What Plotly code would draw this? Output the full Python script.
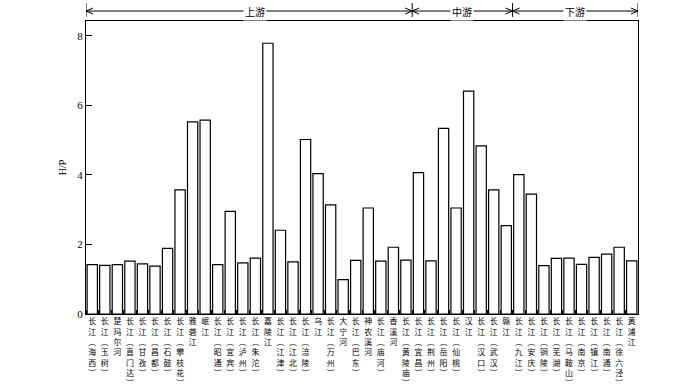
import plotly.graph_objects as go

stations = ["长江(海西)", "长江(玉树)", "楚玛尔河", "长江(直门达)", "长江(甘孜)", "长江(昌都)",
            "长江(石鼓)", "长江(攀枝花)", "雅砻江", "岷江", "长江(昭通)", "长江(宜宾)",
            "长江(泸州)", "长江(朱沱)", "嘉陵江", "长江(江津)", "长江(江北)", "长江(涪陵)",
            "乌江", "长江(万州)", "大宁河", "长江(巴东)", "神农溪河", "长江(庙河)",
            "香溪河", "长江(黄陵庙)", "长江(宜昌)", "长江(荆州)", "长江(岳阳)", "长江(仙桃)",
            "汉江", "长江(汉口)", "长江(武汉)", "赣江", "长江(九江)", "长江(安庆)",
            "长江(铜陵)", "长江(芜湖)", "长江(马鞍山)", "长江(南京)", "长江(镇江)", "长江(南通)",
            "长江(徐六泾)", "黄浦江"]
hp = [1.42, 1.40, 1.42, 1.52, 1.44, 1.38, 1.89, 3.57, 5.53, 5.58, 1.42, 2.95,
      1.47, 1.61, 7.79, 2.41, 1.50, 5.02, 4.04, 3.14, 0.99, 1.54, 3.05, 1.52,
      1.92, 1.55, 4.07, 1.53, 5.34, 3.05, 6.41, 4.84, 3.57, 2.54, 4.01, 3.45,
      1.39, 1.60, 1.61, 1.43, 1.63, 1.72, 1.92, 1.53]
reaches = ["上游", "中游", "下游"]
reach_counts = [26, 8, 10]
y_ticks = [0, 2, 4, 6, 8]

n = len(stations)
xs = list(range(n))


def vertical(name):
    chars = []
    for ch in name:
        if ch == "(":
            chars.append("︵")
        elif ch == ")":
            chars.append("︶")
        else:
            chars.append(ch)
    return "<br>".join(chars)


ticktext = [vertical(s) for s in stations]

fig = go.Figure()
fig.add_trace(go.Bar(x=xs, y=hp, marker=dict(color="white", line=dict(color="black", width=1.2)),
                     width=0.82, showlegend=False))

serif = "Liberation Serif, Times New Roman, serif"
cjk = "Noto Sans CJK SC"

annotations = []
shapes = []

# reach bracket
yb = 1.034
bounds = [-0.5]
for c in reach_counts:
    bounds.append(bounds[-1] + c)
shapes.append(dict(type="line", xref="x", yref="paper", x0=bounds[0], x1=bounds[-1], y0=yb, y1=yb,
                   line=dict(color="black", width=1)))
for b in bounds:
    shapes.append(dict(type="line", xref="x", yref="paper", x0=b, x1=b, y0=1.014, y1=1.061,
                       line=dict(color="black", width=1)))
for j, b in enumerate(bounds):
    if j > 0:
        shapes.append(dict(type="path", xref="x", yref="paper", xsizemode="pixel", ysizemode="pixel",
                           xanchor=b, yanchor=yb, path="M -7,3 L 0,0 L -7,-3",
                           line=dict(color="black", width=1)))
    if j < len(bounds) - 1:
        shapes.append(dict(type="path", xref="x", yref="paper", xsizemode="pixel", ysizemode="pixel",
                           xanchor=b, yanchor=yb, path="M 7,3 L 0,0 L 7,-3",
                           line=dict(color="black", width=1)))
for j, r in enumerate(reaches):
    xc = (bounds[j] + bounds[j + 1]) / 2
    if j == 0:
        xc += 0.5
    annotations.append(dict(x=xc, y=yb, xref="x", yref="paper", text=r, showarrow=False,
                            xanchor="center", yanchor="middle", bgcolor="white", borderpad=1,
                            font=dict(family=cjk, size=10, color="black")))

fig.update_layout(
    width=700, height=387,
    margin=dict(l=86, r=62, t=21, b=73, autoexpand=False),
    plot_bgcolor="white", paper_bgcolor="white",
    bargap=0.18,
    annotations=annotations, shapes=shapes,
    xaxis=dict(range=[-0.5, n - 0.5], showline=True, linecolor="black", linewidth=1, mirror=True,
               tickmode="array", tickvals=xs, ticktext=ticktext, tickangle=0,
               tickfont=dict(family=cjk, size=7.9, color="black"),
               ticks="", automargin=False,
               minor=dict(tickmode="linear", tick0=-0.5, dtick=1, ticks="inside", ticklen=4,
                          tickcolor="black", showgrid=False),
               showgrid=False, zeroline=False),
    yaxis=dict(range=[0, 8.43], showline=True, linecolor="black", linewidth=1, mirror=True,
               tickmode="array", tickvals=y_ticks, ticks="inside", ticklen=6, tickcolor="black",
               showgrid=False, zeroline=False, tickfont=dict(family=serif, size=11, color="black"),
               automargin=False,
               title=dict(text="H/P", font=dict(family=serif, size=10, color="black"), standoff=8)),
)

fig.write_html("out.html", config={"displayModeBar": False},
               post_script="document.body.style.margin='0';document.body.style.overflow='hidden';")
